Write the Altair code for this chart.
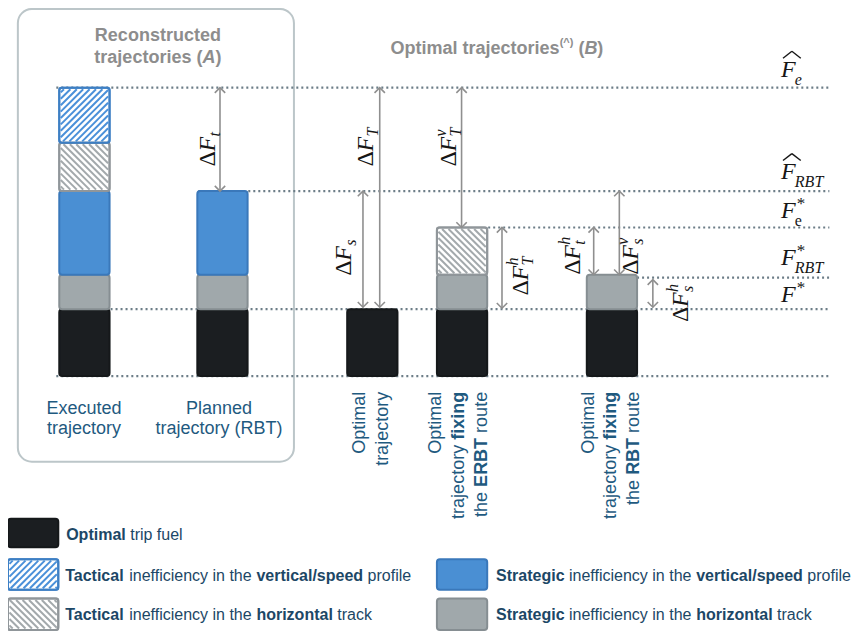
import altair as alt
import pandas as pd

# ---------------- values ----------------
bar_names = ["Executed trajectory", "Planned trajectory (RBT)", "Optimal trajectory",
             "Optimal trajectory fixing the ERBT route", "Optimal trajectory fixing the RBT route"]
optimal_fuel = [68, 68, 68, 68, 68]
strategic_horizontal = [35, 35, 0, 35, 35]
strategic_vertical = [85, 85, 0, 0, 0]
tactical_horizontal = [49, 0, 0, 48, 0]
tactical_vertical = [56, 0, 0, 0, 0]
component_keys = ["opt", "sh", "sv", "th", "tv"]

level_names = ["F_hat_e", "F_hat_RBT", "F_star_e", "F_star_RBT", "F_star", "zero"]
level_values = [293, 188, 151, 100, 68, 0]

delta_names = ["t", "T", "s", "Tv", "Th", "th", "sv", "sh"]
delta_low = [188, 70, 70, 151, 69, 103, 103, 70]
delta_high = [293, 293, 188, 293, 151, 151, 188, 98]

# ---------------- layout ----------------
W, H = 846, 625
X_DOM = [3, 861]
Y_DOM = [1, 636]
SX = W / (X_DOM[1] - X_DOM[0])
SY = H / (Y_DOM[1] - Y_DOM[0])
BASE_Y = 375
BAR_X = [55, 195, 347, 438, 590]
BAR_W = 51
LINE_X0 = [52, 196, 490, 641, 107, 52]
LINE_X1 = 836
ARROW_X = [218, 380, 363, 463, 504, 597, 623, 657]

SANS = "Liberation Sans"
SERIF = "Liberation Serif"
TITLE = "#8d8d8d"
CAT = "#1f5a7f"
LEG = "#1c4766"
MATH = "#161616"
ARROW = "#8f8f8f"
DOT = "#6c7d87"

STYLE = {  # fill, stroke
    "opt": ("#1b1e21", "#15181a"),
    "sh": ("#a0a8ab", "#868e92"),
    "sv": ("#4a8fd3", "#3a78ba"),
    "th": ("#ffffff", "#90969a"),
    "tv": ("#ffffff", "#3d7fc4"),
}
HATCH = {"th": ("#a3a9ac", "\\"), "tv": ("#4a90d9", "/")}


def fy(v):
    return BASE_Y - v


XS = alt.Scale(domain=X_DOM, range=[0, W], zero=False, nice=False)
YS = alt.Scale(domain=Y_DOM, range=[0, H], zero=False, nice=False)

# ---------------- font metrics (Arial / Liberation Sans) ----------------
lw_r = [556, 556, 500, 556, 556, 278, 556, 556, 222, 222, 500, 222, 833, 556, 556, 556, 556, 333, 500, 278, 556, 500, 722, 500, 500, 500]
uw_r = [667, 667, 722, 722, 667, 611, 778, 722, 278, 500, 667, 556, 833, 722, 778, 667, 778, 722, 667, 611, 722, 667, 944, 667, 667, 611]
lw_b = [556, 611, 556, 611, 556, 333, 611, 611, 278, 278, 556, 278, 889, 611, 611, 611, 611, 389, 556, 333, 611, 556, 778, 556, 556, 500]
uw_b = [722, 722, 722, 722, 667, 611, 778, 722, 278, 556, 722, 611, 833, 722, 778, 667, 778, 722, 667, 611, 722, 667, 944, 667, 667, 611]
LOW = "abcdefghijklmnopqrstuvwxyz"
UP = LOW.upper()
REG = dict(zip(LOW, lw_r)); REG.update(zip(UP, uw_r)); REG.update({" ": 278, "(": 333, ")": 333, "/": 278, "^": 469})
BLD = dict(zip(LOW, lw_b)); BLD.update(zip(UP, uw_b)); BLD.update({" ": 278, "(": 333, ")": 333, "/": 278, "^": 584})


def tw(t, size, bold):
    tab = BLD if bold else REG
    return sum(tab.get(c, 556) for c in t) * size / 1000.0


texts = []


def add_text(x, y, t, size, color, weight="normal", style="normal", angle=0,
             align="left", baseline="alphabetic", font=SANS):
    texts.append(dict(x=x, y=y, t=t, size=size, color=color, weight=weight, style=style,
                      angle=angle, align=align, baseline=baseline, font=font))


def rich_h(segs, x, y, align, color):
    widths = [tw(s[0], s[1], s[2]) for s in segs]
    total = sum(widths)
    start = x - total / 2 / SX if align == "center" else x
    cum = 0
    for (t, size, bold, ital, rise), w in zip(segs, widths):
        lead = tw(t[:len(t) - len(t.lstrip())], size, bold)
        add_text(start + (cum + lead) / SX, y - rise / SY, t.strip(), size, color,
                 weight="bold" if bold else "normal", style="italic" if ital else "normal")
        cum += w


def rich_v(segs, x, y_top, color):
    widths = [tw(s[0], s[1], s[2]) for s in segs]
    total = sum(widths)
    start = y_top + total / SY
    cum = 0
    for (t, size, bold), w in zip(segs, widths):
        lead = tw(t[:len(t) - len(t.lstrip())], size, bold)
        add_text(x, start - (cum + lead) / SY, t.strip(), size, color,
                 weight="bold" if bold else "normal", angle=270, baseline="middle")
        cum += w


# titles
rich_h([("Reconstructed", 18, True, False, 0)], 155, 35, "center", TITLE)
rich_h([("trajectories (", 18, True, False, 0), ("A", 18, True, True, 0), (")", 18, True, False, 0)],
       155, 57, "center", TITLE)
rich_h([("Optimal trajectories", 18, True, False, 0), ("(^)", 11, True, False, 8),
        (" (", 18, True, False, 0), ("B", 18, True, True, 0), (")", 18, True, False, 0)],
       391, 48, "left", TITLE)

# category labels
rich_h([("Executed", 18, False, False, 0)], 80, 413, "center", CAT)
rich_h([("trajectory", 18, False, False, 0)], 80, 434, "center", CAT)
rich_h([("Planned", 18, False, False, 0)], 217, 413, "center", CAT)
rich_h([("trajectory (RBT)", 18, False, False, 0)], 217, 434, "center", CAT)
rich_v([("Optimal", 18, False)], 360, 391, CAT)
rich_v([("trajectory", 18, False)], 383, 391, CAT)
rich_v([("Optimal", 18, False)], 437, 391, CAT)
rich_v([("trajectory ", 18, False), ("fixing", 18, True)], 460, 391, CAT)
rich_v([("the ", 18, False), ("ERBT", 18, True), (" route", 18, False)], 484, 391, CAT)
rich_v([("Optimal", 18, False)], 592, 391, CAT)
rich_v([("trajectory ", 18, False), ("fixing", 18, True)], 615, 391, CAT)
rich_v([("the ", 18, False), ("RBT", 18, True), (" route", 18, False)], 638, 391, CAT)

# legend texts
rich_h([("Optimal", 16, True, False, 0), (" trip fuel", 16, False, False, 0)], 62, 542, "left", LEG)
rich_h([("Tactical", 16, True, False, 0), (" inefficiency in the ", 16, False, False, 0),
        ("vertical/speed", 16, True, False, 0), (" profile", 16, False, False, 0)], 61, 583, "left", LEG)
rich_h([("Tactical", 16, True, False, 0), (" inefficiency in the ", 16, False, False, 0),
        ("horizontal", 16, True, False, 0), (" track", 16, False, False, 0)], 61, 623, "left", LEG)
rich_h([("Strategic", 16, True, False, 0), (" inefficiency in the ", 16, False, False, 0),
        ("vertical/speed", 16, True, False, 0), (" profile", 16, False, False, 0)], 498, 583, "left", LEG)
rich_h([("Strategic", 16, True, False, 0), (" inefficiency in the ", 16, False, False, 0),
        ("horizontal", 16, True, False, 0), (" track", 16, False, False, 0)], 498, 623, "left", LEG)

# rotated delta labels: baseline x, bottom y, subscript, superscript
DELTA_POS = {"t": (213, 162, "t", ""), "T": (373, 162, "T", ""), "s": (351, 273, "s", ""),
             "Tv": (457, 162, "T", "v"), "Th": (530, 293, "T", "h"), "th": (583, 272, "t", "h"),
             "sv": (642, 272, "s", "v"), "sh": (693, 320, "s", "h")}
for name in delta_names:
    xb, yb, sub, sup = DELTA_POS[name]
    add_text(xb, yb, "Δ", 24, MATH, angle=270, font=SERIF)
    add_text(xb, yb - 15 / SY, "F", 24, MATH, style="italic", angle=270, font=SERIF)
    after = yb - 30 / SY
    if sub:
        add_text(xb + 5, after, sub, 16, MATH, style="italic", angle=270, font=SERIF)
    if sup:
        add_text(xb - 10, after, sup, 16, MATH, style="italic", angle=270, font=SERIF)

# level labels at the right
LAB_X = 787
LEVEL_LAB = {"F_hat_e": (71, "e", "italic", False, True),
             "F_hat_RBT": (175, "RBT", "italic", False, True),
             "F_star_e": (214, "e", "normal", True, False),
             "F_star_RBT": (262, "RBT", "italic", True, False),
             "F_star": (300, "", "italic", True, False)}
hats = []
for name in level_names:
    if name not in LEVEL_LAB:
        continue
    b, sub, sst, star, hat = LEVEL_LAB[name]
    add_text(LAB_X, b, "F", 24, MATH, style="italic", font=SERIF)
    if sub:
        add_text(LAB_X + 14, b + 8, sub, 16, MATH, style=sst, font=SERIF)
    if star:
        add_text(LAB_X + 16, b - 9, "*", 17, MATH, font=SERIF)
    if hat:
        hats.append(dict(x=LAB_X + 2, y=b - 19, x2=LAB_X + 11, y2=b - 26))
        hats.append(dict(x=LAB_X + 11, y=b - 26, x2=LAB_X + 20, y2=b - 19))

# ---------------- rectangles ----------------
rects = []
for i, name in enumerate(bar_names):
    bottom = 0
    for key, vals in zip(component_keys, [optimal_fuel, strategic_horizontal, strategic_vertical,
                                          tactical_horizontal, tactical_vertical]):
        v = vals[i]
        if v > 0:
            rects.append(dict(key=key, x=BAR_X[i], x2=BAR_X[i] + BAR_W,
                              y=fy(bottom), y2=fy(bottom + v)))
            bottom += v
LEGEND_BOX = [(3, 54, 520, 549, "opt"), (3, 54, 561, 592, "tv"), (3, 54, 601, 633, "th"),
              (438, 489, 561, 592, "sv"), (438, 489, 601, 633, "sh")]
for x0, x1, y0, y1, key in LEGEND_BOX:
    rects.append(dict(key=key, x=x0, x2=x1, y=y1, y2=y0))
rdf = pd.DataFrame(rects)
rdf["fill"] = rdf["key"].map(lambda k: STYLE[k][0])
rdf["stroke"] = rdf["key"].map(lambda k: STYLE[k][1])


def hatch(x0, x1, ytop, ybot, kind, period=6.5, inset=1.5):
    a, b, c, d = x0 + inset, x1 - inset, ytop + inset, ybot - inset
    segs = []
    if kind == "/":
        k = a + c + period / 2
        while k < b + d:
            xs, xe = max(a, k - d), min(b, k - c)
            if xe > xs:
                segs.append(dict(x=xs, y=k - xs, x2=xe, y2=k - xe))
            k += period
    else:
        k = a - d + period / 2
        while k < b - c:
            xs, xe = max(a, k + c), min(b, k + d)
            if xe > xs:
                segs.append(dict(x=xs, y=xs - k, x2=xe, y2=xe - k))
            k += period
    return segs


hl = []
for r in rects:
    if r["key"] in HATCH:
        col, kind = HATCH[r["key"]]
        for s in hatch(r["x"], r["x2"], min(r["y"], r["y2"]), max(r["y"], r["y2"]), kind):
            s["color"] = col
            hl.append(s)
hdf = pd.DataFrame(hl)

X = lambda f="x": alt.X(f + ":Q", scale=XS, axis=None)
Y = lambda f="y": alt.Y(f + ":Q", scale=YS, axis=None)

layers = []
# panel box
box = pd.DataFrame([dict(x=13, x2=293, y=2, y2=462)])
layers.append(alt.Chart(box).mark_rect(filled=False, stroke="#bcc6c9", strokeWidth=2, cornerRadius=14)
              .encode(x=X(), x2="x2", y=Y(), y2="y2"))
# dotted reference lines
ldf = pd.DataFrame(dict(name=level_names, x=LINE_X0, x2=[LINE_X1] * len(level_names),
                        y=[fy(v) for v in level_values]))
layers.append(alt.Chart(ldf).mark_rule(color=DOT, strokeWidth=2.2, strokeDash=[2, 3])
              .encode(x=X(), x2="x2", y=Y()))
# bars and legend boxes
layers.append(alt.Chart(rdf).mark_rect(strokeWidth=2, cornerRadius=3)
              .encode(x=X(), x2="x2", y=Y(), y2="y2",
                      fill=alt.Fill("fill:N", scale=None), stroke=alt.Stroke("stroke:N", scale=None)))
layers.append(alt.Chart(hdf).mark_rule(strokeWidth=2)
              .encode(x=X(), x2="x2", y=Y(), y2="y2", color=alt.Color("color:N", scale=None)))
hr = rdf[rdf["key"].isin(["th", "tv"])]
layers.append(alt.Chart(hr).mark_rect(filled=False, strokeWidth=2, cornerRadius=2)
              .encode(x=X(), x2="x2", y=Y(), y2="y2", stroke=alt.Stroke("stroke:N", scale=None)))
# arrows
adf = pd.DataFrame(dict(name=delta_names, x=ARROW_X, y=[fy(v) for v in delta_high],
                        y2=[fy(v) for v in delta_low]))
layers.append(alt.Chart(adf).mark_rule(color=ARROW, strokeWidth=1.6)
              .encode(x=X(), y=Y(), y2="y2"))
layers.append(alt.Chart(adf).mark_point(shape="M-0.8,0.8L0,0L0.8,0.8", filled=False, size=169,
                                        color=ARROW, strokeWidth=1.6, opacity=1)
              .encode(x=X(), y=Y()))
layers.append(alt.Chart(adf).mark_point(shape="M-0.8,-0.8L0,0L0.8,-0.8", filled=False, size=169,
                                        color=ARROW, strokeWidth=1.6, opacity=1)
              .encode(x=X(), y=Y("y2")))
# hats
layers.append(alt.Chart(pd.DataFrame(hats)).mark_rule(color=MATH, strokeWidth=1.4)
              .encode(x=X(), x2="x2", y=Y(), y2="y2"))
# texts
tdf = pd.DataFrame(texts)
keys = ["size", "color", "weight", "style", "angle", "align", "baseline", "font"]
for k, g in tdf.groupby(keys):
    size, color, weight, style, angle, align, baseline, font = k
    layers.append(alt.Chart(g[["x", "y", "t"]]).mark_text(
        fontSize=float(size), color=color, fontWeight=weight, fontStyle=style, angle=int(angle),
        align=align, baseline=baseline, font=font).encode(x=X(), y=Y(), text="t:N"))

chart = alt.layer(*layers).properties(
    width=W, height=H, padding=0, autosize=alt.AutoSizeParams(type="none")
).configure_view(strokeWidth=0)

chart.save("out.html", embed_options={"renderer": "svg", "actions": False})
